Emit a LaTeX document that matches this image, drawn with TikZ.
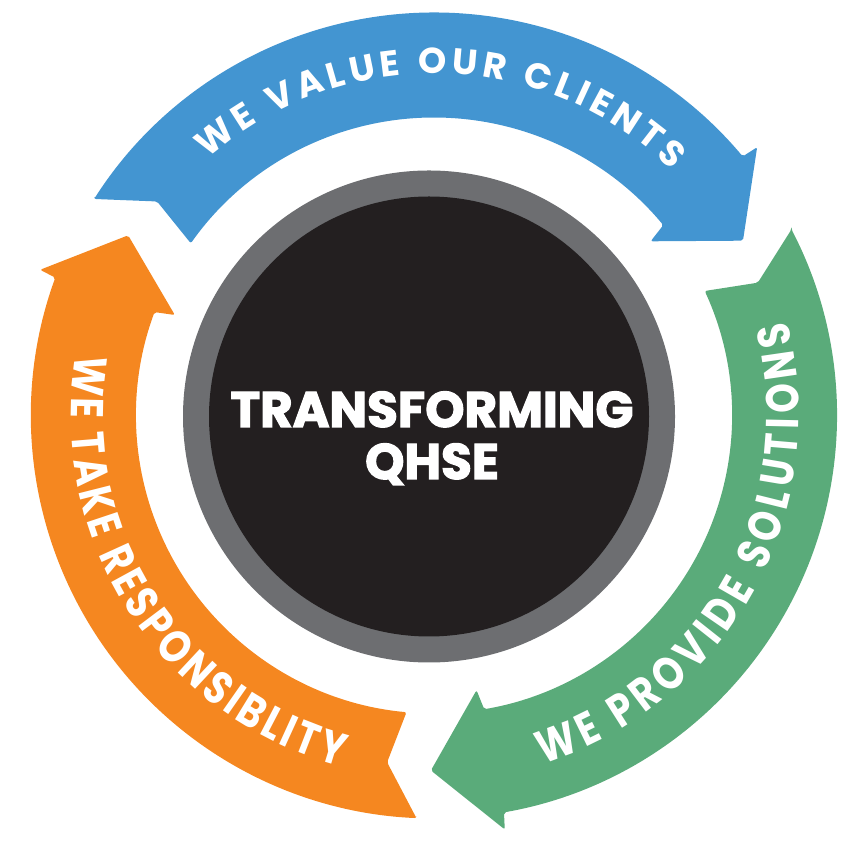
\documentclass[tikz,border=0pt]{standalone}
\usepackage{fontspec}
\setmainfont{Poppins}
\newfontfamily\condfont{Poppins}[FakeStretch=0.82]
\newfontfamily\heavyfont{Poppins}[BoldFeatures={FakeBold=2.5}]
\usetikzlibrary{decorations.text}
\definecolor{cblue}{RGB}{67,149,209}
\definecolor{cgreen}{RGB}{90,171,122}
\definecolor{corange}{RGB}{245,135,32}
\definecolor{cgray}{RGB}{109,110,113}
\definecolor{cblack}{RGB}{35,31,32}
\newcommand\qarrow[2]{%
  \fill[#2, rounded corners=2pt] (#1:403) -- ({#1-5.2}:350) -- ({#1-2.8}:298)
    arc[start angle={#1-2.8}, end angle={#1-107.8}, radius=298]
    -- ({#1-108.7}:278) -- ({#1-118}:355) -- ({#1-107.8}:420) -- ({#1-107.5}:403)
    arc[start angle={#1-107.5}, end angle={#1}, radius=403] -- cycle;}
\tikzset{
  arctext/.style={decorate, decoration={text along path, text align={fit to path}, text color=white, text={#1}}},
  centertext/.style={text=white, font=\heavyfont\fontsize{50}{50}\selectfont\bfseries, inner sep=0pt, anchor=base}
}
\begin{document}
\begin{tikzpicture}[x=1pt,y=1pt]
\useasboundingbox (0,0) rectangle (850,850);
% central disc
\fill[cgray] (429,433.5) circle[radius=246];
\fill[cblack] (429,433.5) circle[radius=220];
\node[centertext] (tr) at (432,423) {TRANSFORMING};
\node[centertext] (qh) at (432,371) {QHSE};
% arrows
\begin{scope}[shift={(434,434.5)}]
  \qarrow{147.5}{cblue}
  \qarrow{27.5}{cgreen}
  \qarrow{267.5}{corange}
  \path[arctext={|\fontsize{36}{36}\selectfont\bfseries|WE VALUE OUR CLIENTS}]
    (131.4:342) arc[start angle=131.4, end angle=45.9, radius=342];
  \path[arctext={|\condfont\fontsize{46}{46}\selectfont\bfseries|WE PROVIDE SOLUTIONS}]
    (-72.6:365) arc[start angle=-72.6, end angle=14.9, radius=365];
  \path[arctext={|\condfont\fontsize{46}{46}\selectfont\bfseries|WE TAKE RESPONSIBLITY}]
    (170.3:363) arc[start angle=170.3, end angle=255.0, radius=363];
\end{scope}
\end{tikzpicture}
\end{document}
